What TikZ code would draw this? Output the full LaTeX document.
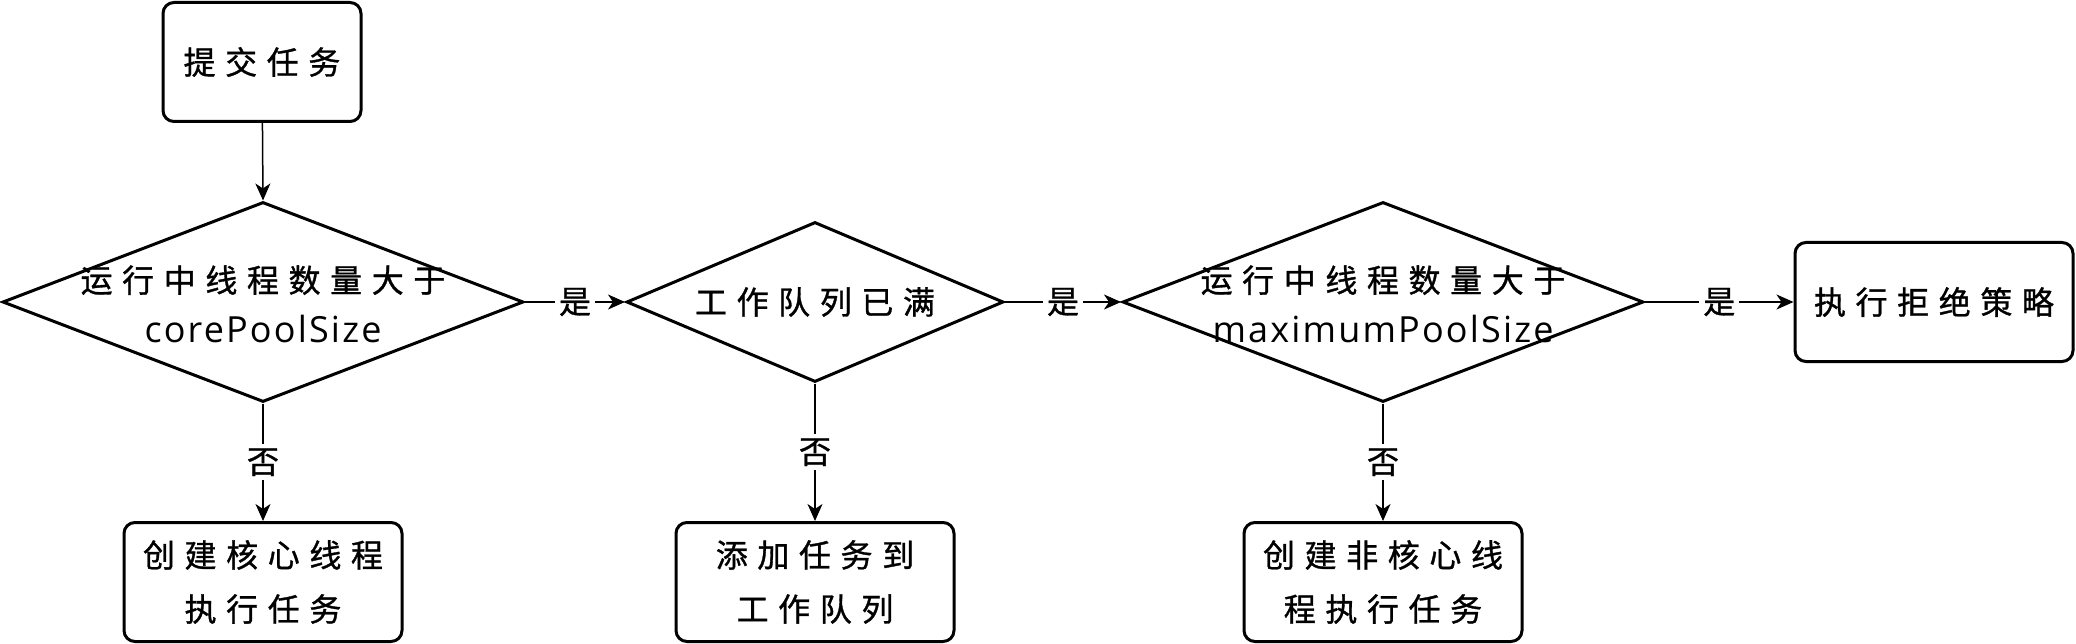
\documentclass[tikz,border=0pt]{standalone}
\usepackage{fontspec}
\setmainfont{Open Sans}
\newfontfamily\cjk{Noto Sans CJK SC}[LetterSpace=30,FakeBold=1]
\newfontfamily\cjklab{Noto Sans CJK SC}[FakeBold=1]
\newfontfamily\lat{Open Sans}[LetterSpace=6]
\usetikzlibrary{shapes.geometric,arrows.meta}
\tikzset{
  box/.style={draw, line width=3pt, rounded corners=11pt, minimum width=278pt, minimum height=119pt, inner sep=0pt, align=center, font=\cjk\fontsize{32}{54}\selectfont},
  dia/.style={draw, diamond, line width=3pt, inner sep=0pt},
  dtext/.style={align=center, inner sep=0pt, font=\fontsize{32}{50}\selectfont},
  conn/.style={line width=1.5pt, -{Stealth[length=17pt,width=15pt,inset=5pt]}},
  lab/.style={fill=white, inner sep=4pt, font=\cjklab\fontsize{32}{32}\selectfont}
}
\begin{document}
\begin{tikzpicture}[x=1pt,y=-1pt]
\useasboundingbox (0,0) rectangle (2076,644);
\node[box, minimum width=198pt] (start) at (262,62) {提交任务};
\node[dia, minimum width=521pt, minimum height=200pt] (d1) at (263,302) {};
\node[dtext] (d1t) at (263,304) {{\cjk 运行中线程数量大于}\\{\lat\fontsize{36}{50}\selectfont corePoolSize}};
\node[dia, minimum width=377pt, minimum height=160pt] (d2) at (815,302) {};
\node[dtext] (d2t) at (815,302) {\cjk 工作队列已满};
\node[dia, minimum width=521pt, minimum height=200pt] (d3) at (1383,302) {};
\node[dtext] (d3t) at (1383,304) {{\cjk 运行中线程数量大于}\\{\lat\fontsize{36}{50}\selectfont maximumPoolSize}};
\node[box] (reject) at (1934,302) {执行拒绝策略};
\node[box] (b1) at (263,582) {创建核心线程\\执行任务};
\node[box] (b2) at (815,582) {添加任务到\\工作队列};
\node[box] (b3) at (1383,582) {创建非核心线\\程执行任务};
\draw[conn] (start) -- (d1.north);
\draw[conn] (d1.east) -- node[lab] (y1) {是} (d2.west);
\draw[conn] (d2.east) -- node[lab] (y2) {是} (d3.west);
\draw[conn] (d3.east) -- node[lab] (y3) {是} (reject.west);
\draw[conn] (d1.south) -- node[lab] (n1) {否} (b1.north);
\draw[conn] (d2.south) -- node[lab] (n2) {否} (b2.north);
\draw[conn] (d3.south) -- node[lab] (n3) {否} (b3.north);
\end{tikzpicture}
\end{document}
